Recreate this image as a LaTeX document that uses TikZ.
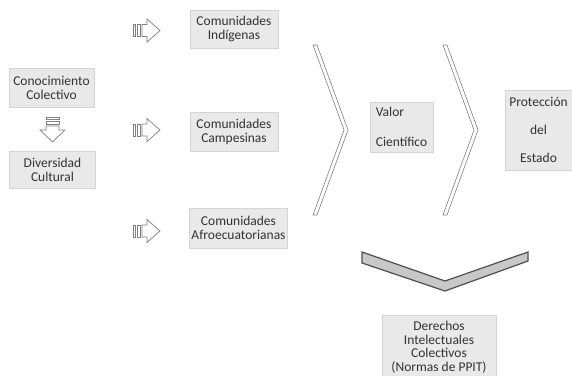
\documentclass[tikz,border=0pt]{standalone}
\usepackage{fontspec}
\setmainfont{Carlito}
\definecolor{boxgray}{HTML}{E9E9E9}
\definecolor{edgegray}{HTML}{D4D4D4}
\definecolor{txtgray}{HTML}{333333}
\definecolor{linegray}{HTML}{808080}
\definecolor{chevdark}{HTML}{4F4F4F}
\definecolor{chevfill}{HTML}{C8C8C8}
\def\fsz{\fontsize{13.5}{14}\selectfont}
\tikzstyle{concept}=[draw=edgegray,fill=boxgray,text=txtgray,align=center,
                     inner sep=2pt,font=\fsz]
\tikzstyle{blockarrow}=[draw=linegray,fill=white,line width=0.7pt]
\tikzstyle{chevron}=[draw=linegray,fill=white,line width=0.6pt]

\begin{document}
\begin{tikzpicture}[x=1pt,y=-1pt]
  \useasboundingbox[fill=white] (0,0) rectangle (572,375);

  % left column
  \node[concept,minimum width=85pt,minimum height=39pt] (conoc) at (51.5,87.5) {Conocimiento\\Colectivo};
  \node[concept,minimum width=86pt,minimum height=37pt] (divers) at (52.5,169.5) {Diversidad\\Cultural};

  % striped arrow down, from (40,117) to (65,142)
  \draw[blockarrow] (46,117) rectangle (59,119);
  \draw[blockarrow] (46,121) rectangle (59,124);
  \draw[blockarrow] (46,126) -- (59,126) -- (59,130) -- (65,130) -- (52.5,142)
                    -- (40,130) -- (46,130) -- cycle;

  % communities
  \node[concept,minimum width=88pt,minimum height=38pt] (indig) at (234,29) {Comunidades\\Indígenas};
  \node[concept,minimum width=88pt,minimum height=39pt] (campes) at (234,132) {Comunidades\\Campesinas};
  \node[concept,minimum width=97pt,minimum height=40pt] (afro) at (238.5,228) {Comunidades\\Afroecuatorianas};

  % striped arrows right, from x=133 to x=160
  \foreach \yc in {30.5,130,231}{
    \begin{scope}[shift={(0,\yc)}]
      \draw[blockarrow] (133,-6) rectangle (135,6);
      \draw[blockarrow] (137,-6) rectangle (140,6);
      \draw[blockarrow] (142,-6) -- (147,-6) -- (147,-11.5) -- (160,0) -- (147,11.5)
                        -- (147,6) -- (142,6) -- cycle;
    \end{scope}
  }

  % chevrons from y=45 to y=215
  \foreach \xs in {0,130}{
    \draw[chevron,shift={(\xs,0)}] (313,45) -- (317,45) -- (348,130) -- (317,215)
                                   -- (313,215) -- (344,130) -- cycle;
  }

  \node[concept,align=left,font=\fontsize{13.5}{30}\selectfont,inner sep=4pt,
        minimum width=63pt,minimum height=50pt] (valor) at (401.5,127) {Valor\\Científico};
  \node[concept,font=\fontsize{13.5}{28}\selectfont,minimum width=67pt,
        minimum height=80pt] (protec) at (538.5,130) {Protección\\del\\Estado};

  % big chevron pointing down
  \draw[draw=chevdark,fill=chevfill,line width=1.2pt,line join=miter]
    (362,252) -- (445,281) -- (528,252) -- (528,261) -- (445,291) -- (362,263) -- cycle;

  \node[concept,font=\fontsize{13.5}{13.5}\selectfont,minimum width=114pt,
        minimum height=64pt] (derech) at (439,347) {Derechos\\Intelectuales\\Colectivos\\(Normas de PPIT)};

\end{tikzpicture}
\end{document}
